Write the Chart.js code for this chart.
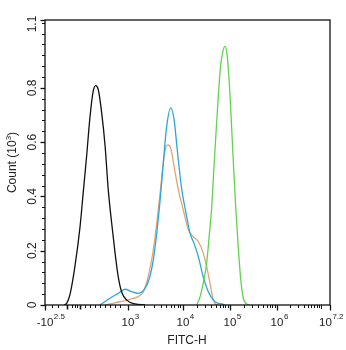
<!DOCTYPE html>
<html>
<head>
<meta charset="utf-8">
<script src="https://cdn.jsdelivr.net/npm/chart.js@4/dist/chart.umd.min.js"></script>
<style>
  html, body { margin: 0; padding: 0; background: #ffffff; }
  #wrap { width: 346px; height: 350px; }
</style>
</head>
<body>
<div id="wrap"><canvas id="hist" width="346" height="350"></canvas></div>
<script>
// FITC-H histogram overlay, x in display channels (0..1000 on a biexponential axis)

// Unstained control (black)
const blackCh    = [67, 76, 88, 105, 123, 134, 146, 158, 169, 178, 187, 199, 211, 222, 234, 246, 257, 269, 287, 316, 351];
const blackCount = [0, 0.006, 0.04, 0.142, 0.289, 0.413, 0.548, 0.694, 0.787, 0.808, 0.793, 0.707, 0.584, 0.424, 0.301, 0.190, 0.104, 0.048, 0.018, 0.004, 0];

// Sample A (orange)
const orangeCh    = [211, 228, 263, 298, 327, 345, 362, 380, 392, 404, 415, 425, 431, 441, 453, 468, 485, 503, 520, 538, 555, 567, 579, 588, 596, 607];
const orangeCount = [0, 0.004, 0.012, 0.021, 0.031, 0.049, 0.104, 0.203, 0.301, 0.413, 0.523, 0.585, 0.590, 0.578, 0.510, 0.424, 0.351, 0.277, 0.252, 0.234, 0.192, 0.142, 0.080, 0.030, 0.006, 0];

// Sample B (blue)
const blueCh    = [193, 228, 257, 281, 304, 327, 351, 368, 380, 392, 404, 415, 427, 441, 453, 464, 480, 495, 509, 523, 538, 555, 573, 591, 608, 620, 632];
const blueCount = [0, 0.025, 0.043, 0.058, 0.049, 0.043, 0.061, 0.104, 0.166, 0.264, 0.387, 0.523, 0.658, 0.726, 0.683, 0.572, 0.424, 0.338, 0.264, 0.227, 0.178, 0.104, 0.049, 0.018, 0.006, 0.004, 0];

// Positive control (green)
const greenCh    = [532, 544, 555, 567, 576, 585, 593, 600, 608, 616, 624, 631, 638, 646, 653, 661, 669, 678, 687, 696, 708, 719];
const greenCount = [0, 0.030, 0.080, 0.153, 0.252, 0.362, 0.510, 0.633, 0.768, 0.879, 0.934, 0.953, 0.929, 0.830, 0.694, 0.523, 0.362, 0.214, 0.092, 0.024, 0.004, 0];

// Axis ticks
const xMajorCh    = [0, 291, 484, 649, 814, 1000];
const xMajorBase  = ['-10', '10', '10', '10', '10', '10'];
const xMajorExp   = ['2.5', '3', '4', '5', '6', '7.2'];
const xLowMinorCh = [23, 47, 76, 94, 105, 113, 123, 140, 158, 175, 193, 211, 228, 246, 263];
const xLowMediumCh = [76, 123];
const yTickValues = [0, 0.2, 0.4, 0.6, 0.8, 1.05];
const yTickLabels = ['0', '0.2', '0.4', '0.6', '0.8', '1.1'];
const yMinorStep  = 0.04;
const xMax = 1000;
const yMax = 1.05;

function pts(xs, ys) { return xs.map((x, i) => ({ x: x, y: ys[i] })); }

const NARROW = '"Liberation Sans Narrow", "Arial Narrow", "Liberation Sans", Arial, sans-serif';
const SANS = '"Liberation Sans", Arial, sans-serif';

const axesPlugin = {
  id: 'flowAxes',
  afterDraw(chart) {
    const ctx = chart.ctx;
    const a = chart.chartArea;
    const xs = chart.scales.x, ys = chart.scales.y;
    ctx.save();
    ctx.strokeStyle = '#111';
    ctx.fillStyle = '#222';

    // frame
    ctx.lineWidth = 1.3;
    ctx.strokeRect(a.left, a.top, a.right - a.left, a.bottom - a.top);

    // x minor ticks (log decades)
    ctx.lineWidth = 1;
    const tick = (px, len, w) => {
      ctx.lineWidth = w || 1;
      ctx.beginPath();
      ctx.moveTo(Math.round(px) + 0.5, a.bottom);
      ctx.lineTo(Math.round(px) + 0.5, a.bottom + len);
      ctx.stroke();
    };
    xLowMinorCh.forEach(c => tick(xs.getPixelForValue(c), 3));
    xLowMediumCh.forEach(c => tick(xs.getPixelForValue(c), 4.5, 1.6));
    const decStart = [3, 4, 5, 6];
    for (let i = 1; i < xMajorCh.length - 1; i++) {
      const c0 = xMajorCh[i];
      const c1 = (i + 1 < xMajorCh.length - 1) ? xMajorCh[i + 1] : xMajorCh[i] + (xMajorCh[i + 1] - xMajorCh[i]) / 1.2;
      for (let k = 2; k <= 10; k++) {
        const c = c0 + (c1 - c0) * Math.log10(k);
        if (c < xMax - 2) tick(xs.getPixelForValue(c), k === 10 ? 4 : 3);
      }
    }
    xMajorCh.forEach(c => tick(xs.getPixelForValue(c), 5.5, 1.3));

    // y ticks
    const ytick = (py, len, w) => {
      ctx.lineWidth = w || 1;
      ctx.beginPath();
      ctx.moveTo(a.left, Math.round(py) + 0.5);
      ctx.lineTo(a.left - len, Math.round(py) + 0.5);
      ctx.stroke();
    };
    for (let v = 0; v <= yMax + 1e-6; v += yMinorStep) ytick(ys.getPixelForValue(v), 3);
    yTickValues.forEach(v => ytick(ys.getPixelForValue(v), 4.5, 1.3));

    // x labels with superscripts
    ctx.textBaseline = 'alphabetic';
    const baseFont = '11.5px ' + NARROW;
    const supFont = '8px ' + NARROW;
    xMajorCh.forEach((c, i) => {
      ctx.font = baseFont;
      const bw = ctx.measureText(xMajorBase[i]).width;
      ctx.font = supFont;
      const sw = ctx.measureText(xMajorExp[i]).width;
      let cx = xs.getPixelForValue(c);
      let left = cx - bw / 2;
      if (left + bw + sw > chart.width - 3) left = chart.width - 3 - bw - sw;
      ctx.textAlign = 'left';
      ctx.font = baseFont;
      ctx.fillText(xMajorBase[i], left, 325.5);
      ctx.font = supFont;
      ctx.fillText(xMajorExp[i], left + bw + 0.5, 319);
    });

    // x title
    ctx.font = '12px ' + SANS;
    ctx.textAlign = 'center';
    ctx.fillText('FITC-H', 187, 344);

    // y labels (rotated)
    ctx.font = '12px ' + NARROW;
    ctx.textAlign = 'center';
    ctx.textBaseline = 'alphabetic';
    yTickValues.forEach((v, i) => {
      let py = ys.getPixelForValue(v);
      if (i === yTickValues.length - 1) py += 4;
      ctx.save();
      ctx.translate(36, py);
      ctx.rotate(-Math.PI / 2);
      ctx.fillText(yTickLabels[i], 0, 0);
      ctx.restore();
    });

    // y title: Count (10^3)
    ctx.save();
    ctx.translate(16, (a.top + a.bottom) / 2);
    ctx.rotate(-Math.PI / 2);
    ctx.font = '12px ' + SANS;
    const t1 = 'Count (10';
    const t2 = '3';
    const t3 = ')';
    const w1 = ctx.measureText(t1).width;
    ctx.font = '8px ' + SANS;
    const w2 = ctx.measureText(t2).width;
    ctx.font = '12px ' + SANS;
    const w3 = ctx.measureText(t3).width;
    let x0 = -(w1 + w2 + w3) / 2;
    ctx.textAlign = 'left';
    ctx.fillText(t1, x0, 0);
    ctx.font = '8px ' + SANS;
    ctx.fillText(t2, x0 + w1, -5);
    ctx.font = '12px ' + SANS;
    ctx.fillText(t3, x0 + w1 + w2, 0);
    ctx.restore();

    ctx.restore();
  }
};

const lineStyle = { fill: false, pointRadius: 0, borderWidth: 1.3, tension: 0.35, cubicInterpolationMode: 'monotone' };

new Chart(document.getElementById('hist'), {
  type: 'line',
  data: {
    datasets: [
      Object.assign({ label: 'Unstained', data: pts(blackCh, blackCount), borderColor: '#111111', order: 1 }, lineStyle),
      Object.assign({ label: 'Sample B', data: pts(blueCh, blueCount), borderColor: '#2aa8d8', order: 2 }, lineStyle),
      Object.assign({ label: 'Sample A', data: pts(orangeCh, orangeCount), borderColor: '#e3a475', order: 3 }, lineStyle),
      Object.assign({ label: 'Positive', data: pts(greenCh, greenCount), borderColor: '#63d24f', order: 0 }, lineStyle)
    ]
  },
  options: {
    responsive: false,
    animation: false,
    devicePixelRatio: 1,
    layout: { padding: { left: 45, right: 16, top: 20, bottom: 45 } },
    plugins: { legend: { display: false }, tooltip: { enabled: false } },
    scales: {
      x: { type: 'linear', min: 0, max: xMax, display: false },
      y: { type: 'linear', min: 0, max: yMax, display: false }
    }
  },
  plugins: [axesPlugin]
});
</script>
</body>
</html>
